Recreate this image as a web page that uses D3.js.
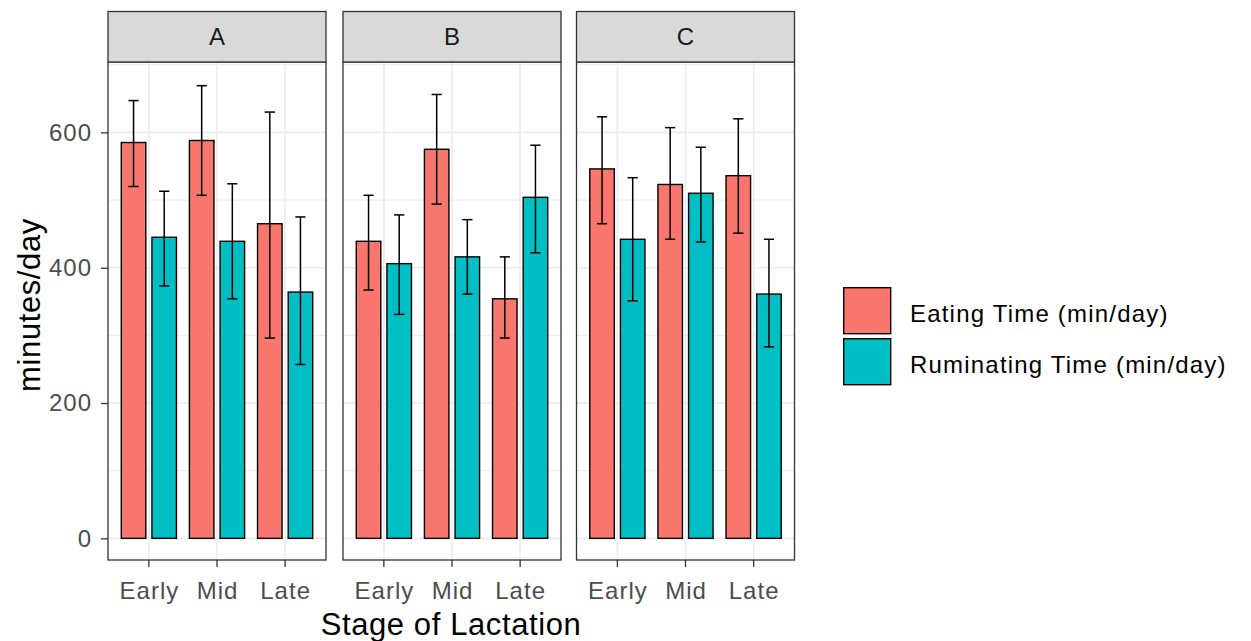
<!DOCTYPE html>
<html>
<head>
<meta charset="utf-8">
<script src="https://cdn.jsdelivr.net/npm/d3@7"></script>
<style>
  html, body { margin: 0; padding: 0; background: #fff; }
  svg { display: block; font-family: "Liberation Sans", Arial, sans-serif; }
</style>
</head>
<body>
<svg id="chart" width="1251" height="641"></svg>
<script>
// ---- data ----
const panels = ["A", "B", "C"];
const stages = ["Early", "Mid", "Late"];
const series = ["Eating Time (min/day)", "Ruminating Time (min/day)"];
const colors = ["#F8766D", "#00BFC4"];
const yTicks = [0, 200, 400, 600];
const yMinor = [100, 300, 500, 700];

// per panel (A, B, C), per stage (Early, Mid, Late)
const eatingMean = [[585, 588, 465], [439, 575, 354], [546, 523, 536]];
const eatingLow  = [[520, 507, 296], [367, 494, 296], [465, 442, 451]];
const eatingHigh = [[647, 669, 630], [507, 656, 416], [623, 607, 620]];
const rumMean = [[445, 439, 364], [406, 416, 504], [442, 510, 361]];
const rumLow  = [[373, 354, 257], [331, 361, 422], [351, 438, 283]];
const rumHigh = [[513, 524, 475], [478, 471, 581], [533, 578, 442]];

const means = [eatingMean, rumMean];
const lows = [eatingLow, rumLow];
const highs = [eatingHigh, rumHigh];

// ---- layout ----
const svg = d3.select("#chart");
const panelLeft = [108, 343, 576.5];
const panelW = 218;
const pTop = 62, pBottom = 560, stripTop = 11.5;
const tickFont = 24, tickLS = 1;

const y = d3.scaleLinear().domain([-32, 704]).range([pBottom, pTop]);

panels.forEach((p, pi) => {
  const x0 = panelLeft[pi];
  const x = d3.scaleBand().domain(stages).range([x0, x0 + panelW]).paddingInner(0).paddingOuter(0.1);
  const step = x.step();
  const xs = d3.scaleBand().domain(series).range([0.05 * step, 0.95 * step]);
  const barW = 0.36 * step;
  const capW = 0.15 * step;

  const g = svg.append("g");
  g.append("rect").attr("x", x0).attr("y", pTop).attr("width", panelW).attr("height", pBottom - pTop).attr("fill", "#fff");

  // minor grid
  g.selectAll(".ymin").data(yMinor.filter(v => y(v) > pTop)).join("line")
    .attr("x1", x0).attr("x2", x0 + panelW)
    .attr("y1", d => y(d)).attr("y2", d => y(d))
    .attr("stroke", "#EBEBEB").attr("stroke-width", 1);
  // major grid
  g.selectAll(".ymaj").data(yTicks).join("line")
    .attr("x1", x0).attr("x2", x0 + panelW)
    .attr("y1", d => y(d)).attr("y2", d => y(d))
    .attr("stroke", "#EBEBEB").attr("stroke-width", 1.6);
  g.selectAll(".xmaj").data(stages).join("line")
    .attr("x1", d => x(d) + step / 2).attr("x2", d => x(d) + step / 2)
    .attr("y1", pTop).attr("y2", pBottom)
    .attr("stroke", "#EBEBEB").attr("stroke-width", 1.6);

  // bars
  series.forEach((s, si) => {
    stages.forEach((st, k) => {
      const cx = x(st) + xs(s) + xs.bandwidth() / 2;
      const v = means[si][pi][k];
      g.append("rect")
        .attr("x", cx - barW / 2).attr("y", y(v))
        .attr("width", barW).attr("height", y(0) - y(v))
        .attr("fill", colors[si]).attr("stroke", "#000").attr("stroke-width", 1.4);
    });
  });
  // error bars
  series.forEach((s, si) => {
    stages.forEach((st, k) => {
      const cx = x(st) + xs(s) + xs.bandwidth() / 2;
      const lo = y(lows[si][pi][k]), hi = y(highs[si][pi][k]);
      const eg = g.append("g").attr("stroke", "#000").attr("stroke-width", 1.5);
      eg.append("line").attr("x1", cx).attr("x2", cx).attr("y1", lo).attr("y2", hi);
      eg.append("line").attr("x1", cx - capW / 2).attr("x2", cx + capW / 2).attr("y1", lo).attr("y2", lo);
      eg.append("line").attr("x1", cx - capW / 2).attr("x2", cx + capW / 2).attr("y1", hi).attr("y2", hi);
    });
  });

  // panel border
  g.append("rect").attr("x", x0).attr("y", pTop).attr("width", panelW).attr("height", pBottom - pTop)
    .attr("fill", "none").attr("stroke", "#333333").attr("stroke-width", 1.3);
  // strip
  g.append("rect").attr("x", x0).attr("y", stripTop).attr("width", panelW).attr("height", pTop - stripTop)
    .attr("fill", "#D9D9D9").attr("stroke", "#333333").attr("stroke-width", 1.3);
  g.append("text").attr("x", x0 + panelW / 2).attr("y", (stripTop + pTop) / 2)
    .attr("dy", "0.36em").attr("text-anchor", "middle")
    .attr("font-size", 24).attr("fill", "#1A1A1A").text(p);

  // x axis
  const xa = svg.append("g").attr("transform", `translate(0,${pBottom})`)
    .call(d3.axisBottom(x).tickSize(7).tickPadding(9));
  xa.select(".domain").remove();
  xa.selectAll(".tick line").attr("stroke", "#333333").attr("stroke-width", 1.3);
  xa.selectAll(".tick text").attr("fill", "#4D4D4D").attr("font-size", tickFont)
    .attr("letter-spacing", tickLS).attr("dx", tickLS / 2)
    .attr("y", 39).attr("dy", 0)
    .attr("font-family", "Liberation Sans, Arial, sans-serif");
});

// y axis
const ya = svg.append("g").attr("transform", `translate(${panelLeft[0]},0)`)
  .call(d3.axisLeft(y).tickValues(yTicks).tickSize(7).tickPadding(10));
ya.select(".domain").remove();
ya.selectAll(".tick line").attr("stroke", "#333333").attr("stroke-width", 1.3);
ya.selectAll(".tick text").attr("fill", "#4D4D4D").attr("font-size", tickFont)
  .attr("letter-spacing", tickLS).attr("dx", tickLS)
  .attr("font-family", "Liberation Sans, Arial, sans-serif");

// axis titles
svg.append("text").attr("x", 451).attr("y", 635).attr("text-anchor", "middle")
  .attr("font-size", 31).attr("letter-spacing", 0.6).attr("fill", "#000").text("Stage of Lactation");
svg.append("text").attr("transform", `translate(40,305) rotate(-90)`)
  .attr("text-anchor", "middle").attr("font-size", 31).attr("letter-spacing", 0.6).attr("fill", "#000").text("minutes/day");

// legend
const lg = svg.append("g").attr("transform", "translate(843,287)");
series.forEach((s, i) => {
  lg.append("rect").attr("x", 0.7).attr("y", i * 51 + 0.7).attr("width", 47).attr("height", 46)
    .attr("fill", colors[i]).attr("stroke", "#000").attr("stroke-width", 1.4);
  lg.append("text").attr("x", 67).attr("y", i * 51 + 26).attr("dy", "0.36em")
    .attr("font-size", 24).attr("letter-spacing", 1.2).attr("fill", "#000").text(s);
});
</script>
</body>
</html>
